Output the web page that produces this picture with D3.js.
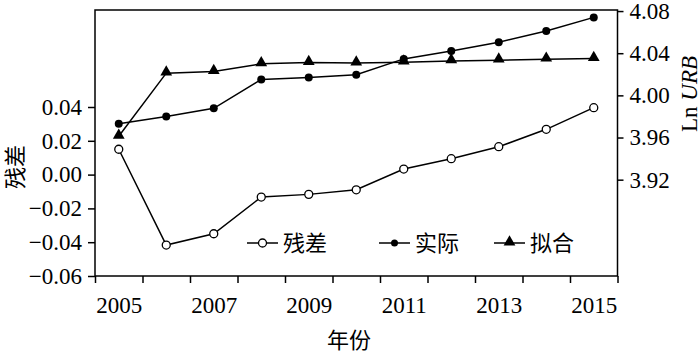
<!DOCTYPE html>
<html>
<head>
<meta charset="utf-8">
<script src="https://cdn.jsdelivr.net/npm/d3@7"></script>
<style>
  body { margin: 0; background: #fff; }
  svg text { fill: #000; }
</style>
</head>
<body>
<div id="chart"></div>
<script>
// years on the x axis
var years = [2005, 2006, 2007, 2008, 2009, 2010, 2011, 2012, 2013, 2014, 2015];
var yearLabels = [2005, 2007, 2009, 2011, 2013, 2015];

// residual (left axis), actual and fitted Ln URB (right axis)
var residual = [0.015, -0.0417, -0.035, -0.0133, -0.0117, -0.0090, 0.0033, 0.0094, 0.0165, 0.0268, 0.0396];
var actual = [3.973, 3.980, 3.9877, 4.0151, 4.017, 4.0195, 4.0346, 4.0422, 4.0504, 4.0611, 4.074];
var fitted = [3.9612, 4.0211, 4.0226, 4.0299, 4.0311, 4.0306, 4.0315, 4.0327, 4.0334, 4.0343, 4.0349];

var leftTicks = [-0.06, -0.04, -0.02, 0.00, 0.02, 0.04];
var rightTicks = [3.92, 3.96, 4.00, 4.04, 4.08];

var legendItems = ["残差", "实际", "拟合"];

var width = 700, height = 352;
var plot = { left: 95, right: 617.5, top: 10, bottom: 276 };
var numFont = "'Liberation Serif', 'Times New Roman', serif";
var cjkFont = "'Noto Sans CJK SC', sans-serif";

var svg = d3.select("#chart").append("svg")
    .attr("width", width)
    .attr("height", height);

var x = d3.scaleLinear().domain([2004.5, 2015.5]).range([plot.left, plot.right]);
var yL = d3.scaleLinear().domain([-0.06, 0.0974]).range([plot.bottom, plot.top]);
var yR = d3.scaleLinear().domain([3.8286, 4.081]).range([plot.bottom, plot.top]);

// frame
svg.append("rect")
    .attr("x", plot.left).attr("y", plot.top)
    .attr("width", plot.right - plot.left).attr("height", plot.bottom - plot.top)
    .attr("fill", "none").attr("stroke", "#000").attr("stroke-width", 1.5);

// bottom axis: ticks at year boundaries, labels on odd years
var xTicks = svg.append("g")
    .attr("transform", "translate(0," + plot.bottom + ")")
    .call(d3.axisBottom(x).tickValues(d3.range(2004.5, 2016, 1)).tickFormat("").tickSize(7).tickSizeOuter(0));
xTicks.select(".domain").remove();
xTicks.selectAll("line").attr("stroke-width", 1.5);

var xLab = svg.append("g")
    .attr("transform", "translate(0," + plot.bottom + ")")
    .call(d3.axisBottom(x).tickValues(yearLabels).tickFormat(d3.format("d")).tickSize(0).tickPadding(21));
xLab.select(".domain").remove();
xLab.selectAll("text").style("font-family", numFont).style("font-size", "23px");

// left axis
var gL = svg.append("g")
    .attr("transform", "translate(" + plot.left + ",0)")
    .call(d3.axisLeft(yL).tickValues(leftTicks).tickFormat(d3.format(".2f")).tickSize(7).tickPadding(6));
gL.select(".domain").remove();
gL.selectAll("line").attr("stroke-width", 1.5);
gL.selectAll("text").style("font-family", numFont).style("font-size", "23px");

// right axis
var gR = svg.append("g")
    .attr("transform", "translate(" + plot.right + ",0)")
    .call(d3.axisRight(yR).tickValues(rightTicks).tickFormat(d3.format(".2f")).tickSize(6).tickPadding(6));
gR.select(".domain").remove();
gR.selectAll("line").attr("stroke-width", 1.5);
gR.selectAll("text").style("font-family", numFont).style("font-size", "23px");

// axis titles
svg.append("text")
    .attr("transform", "translate(23,167) rotate(-90)")
    .attr("text-anchor", "middle")
    .style("font-family", cjkFont).style("font-size", "22px")
    .text("残差");

var rt = svg.append("text")
    .attr("transform", "translate(697,94) rotate(-90)")
    .attr("text-anchor", "middle")
    .style("font-family", numFont).style("font-size", "23px");
rt.append("tspan").text("Ln ");
rt.append("tspan").style("font-style", "italic").text("URB");

svg.append("text")
    .attr("x", 349).attr("y", 348)
    .attr("text-anchor", "middle")
    .style("font-family", cjkFont).style("font-size", "22px")
    .text("年份");

// series
function drawLine(values, yScale) {
    var line = d3.line()
        .x(function(d, i) { return x(years[i]); })
        .y(function(d) { return yScale(d); });
    svg.append("path")
        .datum(values)
        .attr("d", line)
        .attr("fill", "none")
        .attr("stroke", "#000")
        .attr("stroke-width", 1.5);
}

drawLine(fitted, yR);
drawLine(actual, yR);
drawLine(residual, yL);

var tri = d3.symbol().type(d3.symbolTriangle).size(60);

svg.selectAll(".fit").data(fitted).enter().append("path")
    .attr("class", "fit")
    .attr("d", tri)
    .attr("transform", function(d, i) { return "translate(" + x(years[i]) + "," + (yR(d) - 1) + ")"; })
    .attr("fill", "#000");

svg.selectAll(".act").data(actual).enter().append("circle")
    .attr("class", "act")
    .attr("cx", function(d, i) { return x(years[i]); })
    .attr("cy", function(d) { return yR(d); })
    .attr("r", 4)
    .attr("fill", "#000");

svg.selectAll(".res").data(residual).enter().append("circle")
    .attr("class", "res")
    .attr("cx", function(d, i) { return x(years[i]); })
    .attr("cy", function(d) { return yL(d); })
    .attr("r", 4)
    .attr("fill", "#fff")
    .attr("stroke", "#000")
    .attr("stroke-width", 1.3);

// legend
var legX = [247, 379, 494];
var legY = 243;
var leg = svg.selectAll(".leg").data(legendItems).enter().append("g")
    .attr("class", "leg")
    .attr("transform", function(d, i) { return "translate(" + legX[i] + "," + legY + ")"; });

leg.append("line")
    .attr("x1", 0).attr("x2", 31)
    .attr("stroke", "#000").attr("stroke-width", 1.5);

leg.each(function(d, i) {
    var g = d3.select(this);
    if (i === 0) {
        g.append("circle").attr("cx", 15.5).attr("r", 4)
            .attr("fill", "#fff").attr("stroke", "#000").attr("stroke-width", 1.3);
    } else if (i === 1) {
        g.append("circle").attr("cx", 15.5).attr("r", 3.5).attr("fill", "#000");
    } else {
        g.append("path").attr("d", tri).attr("transform", "translate(15.5,-1)").attr("fill", "#000");
    }
});

leg.append("text")
    .attr("x", 36)
    .attr("dy", "0.35em")
    .style("font-family", cjkFont).style("font-size", "22px")
    .text(function(d) { return d; });
</script>
</body>
</html>
